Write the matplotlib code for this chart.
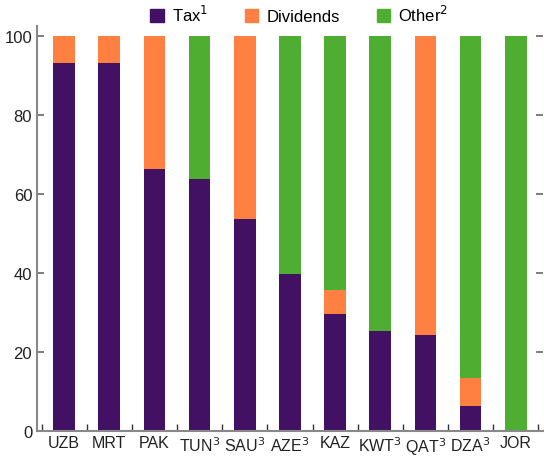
import numpy as np
import matplotlib.pyplot as plt
from matplotlib.patches import Patch

plt.rcParams['font.family'] = ['Liberation Sans Narrow', 'Liberation Sans', 'DejaVu Sans']
plt.rcParams['mathtext.fontset'] = 'custom'
plt.rcParams['mathtext.rm'] = 'Liberation Sans Narrow'
plt.rcParams['mathtext.default'] = 'rm'

paises = ["UZB", "MRT", "PAK", "TUN$^3$", "SAU$^3$", "AZE$^3$", "KAZ", "KWT$^3$", "QAT$^3$", "DZA$^3$", "JOR"]
tax = [93.2, 93.2, 66.3, 63.8, 53.7, 39.8, 29.6, 25.4, 24.3, 6.4, 0]
dividends = [6.8, 6.8, 33.7, 0, 46.3, 0, 6.1, 0, 75.7, 7.1, 0]
other = [0, 0, 0, 36.2, 0, 60.2, 64.3, 74.6, 0, 86.5, 100]

cor_tax = "#421163"
cor_div = "#FF8041"
cor_other = "#4FAE31"

fig = plt.figure(figsize=(5.44, 4.6), dpi=100)
ax = fig.add_axes([0.068, 0.061, 0.93, 0.88])

x = np.arange(len(paises))
larg = 0.48
base2 = np.array(tax) + np.array(dividends)
ax.bar(x, tax, width=larg, color=cor_tax)
ax.bar(x, dividends, width=larg, bottom=tax, color=cor_div)
ax.bar(x, other, width=larg, bottom=base2, color=cor_other)

ax.set_xlim(-0.6, 10.6)
ax.set_ylim(0, 102.5)
ax.set_yticks([0, 20, 40, 60, 80, 100])
ax.set_xticks(x)
ax.set_xticklabels(paises)
ax.set_xticks(np.arange(-0.5, 11, 1), minor=True)

ax.tick_params(axis="x", which="major", length=0, labelsize=11.5, pad=3, colors="#222222")
ax.tick_params(axis="x", which="minor", length=5, direction="in", color="#333333", width=1)
ax.tick_params(axis="y", length=5, direction="in", right=True, color="#666666", width=1.2,
               labelsize=12, labelcolor="#222222")

for s in ["top", "right"]:
    ax.spines[s].set_visible(False)
ax.spines["left"].set_color("#888888")
ax.spines["left"].set_linewidth(1.5)
ax.spines["bottom"].set_color("#888888")
ax.spines["bottom"].set_linewidth(1.5)

handles = [Patch(color=cor_tax, label="Tax$^1$"),
           Patch(color=cor_div, label="Dividends"),
           Patch(color=cor_other, label="Other$^2$")]
fig.legend(handles=handles, loc="center", bbox_to_anchor=(0.55, 0.967), ncol=3, frameon=False,
           fontsize=12, handlelength=0.8, handleheight=0.8, columnspacing=2.2, handletextpad=0.5)

plt.savefig("out.png", dpi=100)
